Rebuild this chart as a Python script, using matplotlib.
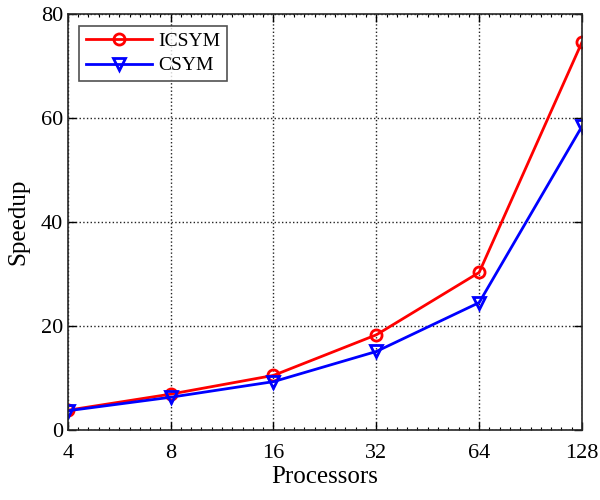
import matplotlib
matplotlib.use('Agg')
import matplotlib.pyplot as plt
from matplotlib.ticker import FixedLocator, NullFormatter, MultipleLocator

plt.rcParams['font.family'] = ['Liberation Serif', 'DejaVu Serif']

procs = [4, 8, 16, 32, 64, 128]
icsym = [3.8, 6.9, 10.5, 18.3, 30.3, 74.6]
csym = [3.7, 6.3, 9.3, 15.1, 24.5, 58.4]

fig = plt.figure(figsize=(6, 5), dpi=100)
ax = fig.add_axes([0.113, 0.14, 0.857, 0.832])

ax.plot(procs, icsym, color='#ff0000', lw=2, marker='o', ms=8, mfc='none', mew=2, label='ICSYM')
ax.plot(procs, csym, color='#0000ff', lw=2, marker='v', ms=8, mfc='none', mew=2, label='CSYM')

ax.set_xscale('log', base=2)
ax.set_xlim(4, 128)
ax.set_ylim(0, 80)
ax.set_xticks(procs)
ax.set_xticklabels([str(p) for p in procs])
ax.xaxis.set_minor_locator(FixedLocator([2 ** (2 + i / 10) for i in range(51)]))
ax.xaxis.set_minor_formatter(NullFormatter())
ax.yaxis.set_major_locator(MultipleLocator(20))

ax.grid(True, which='major', linestyle=':', color='#222222', lw=1)
ax.tick_params(which='both', direction='in', top=True, right=True, labelsize=16, width=1)
ax.tick_params(which='major', length=6)
ax.tick_params(which='minor', length=2, width=0.8)
ax.tick_params(axis='x', pad=10)
for s in ax.spines.values():
    s.set_linewidth(1.2)
    s.set_color('#262626')

ax.set_xlabel('Processors', fontsize=18, labelpad=2)
ax.set_ylabel('Speedup', fontsize=18, labelpad=8)

leg = ax.legend(loc='upper left', fontsize=14, frameon=True, fancybox=False, edgecolor='#262626',
                handlelength=3.4, borderaxespad=0.6, labelspacing=0.35, borderpad=0.35, handletextpad=0.3)
leg.get_frame().set_linewidth(1.2)

fig.savefig('out.png', dpi=100)
